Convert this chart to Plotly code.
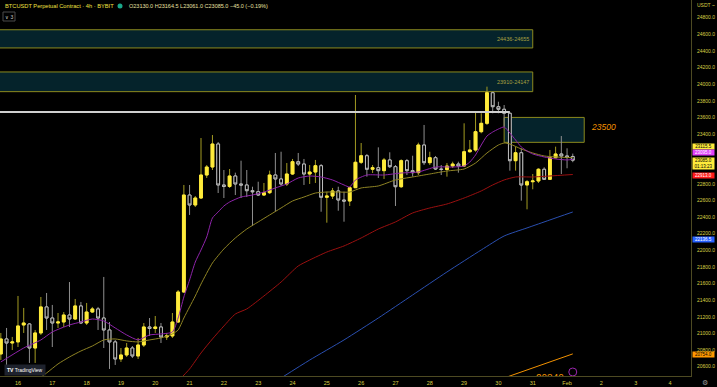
import pandas as pd
import plotly.graph_objects as go

# ---------------- data ----------------
dates = list(pd.date_range("2023-01-15 12:00", periods=101, freq="4h"))

opens = [20753,20934,20885,20898,21102,21114,20825,21006,21319,21186,
         21126,21138,21222,21174,21331,21126,21258,21295,21186,21042,
         20898,20693,20741,20825,20729,20861,21078,21060,21078,20958,
         20970,21138,21499,22666,22546,22630,22907,23003,23280,22787,
         22769,22895,22799,22787,22718,22706,22666,22694,22907,22859,
         22799,22919,23067,23039,22919,22943,23019,22639,22654,22715,
         22606,22594,22754,23060,23139,22976,22995,22959,23088,23007,
         22766,23079,22959,22935,23268,23055,23115,22979,22973,23015,
         23039,23015,23187,23208,23428,23529,23897,23729,23698,23650,
         23079,23175,22787,22826,22835,22976,22855,23115,23160,23136,
         23130]
highs = [21006,21066,20958,21451,21307,21126,21042,21439,21487,21343,
         21246,21258,21619,21415,21379,21367,21319,21319,21680,21138,
         20922,20825,20885,20849,20946,21126,21186,21210,21126,21006,
         21246,21523,22787,22787,22654,23352,23027,23388,23304,22967,
         22979,22935,23079,22967,22766,22826,22811,22959,23172,23187,
         23051,23100,23172,23100,23027,23088,23039,22706,22751,22766,
         22706,22766,23870,23292,23160,23027,23240,23112,23180,23027,
         23096,23100,23139,23296,23509,23187,23136,23027,23051,23067,
         23067,23529,23328,23669,23650,23970,23910,23789,23749,23657,
         23248,23228,22847,22919,22988,23000,23208,23248,23376,23228,
         23164.5]
lows = [20681,20597,20801,20837,21006,20645,20645,20982,21042,20837,
        21066,21078,21078,21162,21114,21102,21246,21042,20825,20573,
        20621,20657,20717,20705,20693,20837,20970,21006,20885,20922,
        20946,21126,21487,22426,22522,22618,22871,22967,22690,22630,
        22751,22666,22630,22642,22293,22654,22654,22678,22465,22775,
        22775,22907,23015,22787,22799,22811,22465,22333,22618,22477,
        22345,22534,22751,23039,22887,22931,22871,22859,22991,22534,
        22751,22907,22887,22907,23027,23027,22967,22907,22887,22991,
        22935,23003,23175,23187,23409,23509,23650,23650,23488,22959,
        22959,22598,22494,22735,22811,22847,22847,23108,22919,22988,
        23061]
closes = [20934,20885,20898,21090,21126,20825,21006,21319,21186,21126,
          21138,21222,21174,21331,21126,21258,21295,21186,21042,20898,
          20693,20741,20825,20729,20861,21078,21060,21078,20958,20970,
          21138,21499,22666,22546,22630,22907,23003,23280,22787,22769,
          22895,22799,22787,22718,22706,22666,22694,22907,22859,22799,
          22919,23067,23039,22919,22943,23019,22639,22654,22715,22606,
          22594,22754,23060,23139,22976,22995,22959,23088,23007,22766,
          23079,22959,22935,23268,23055,23115,22979,22973,23015,23039,
          23015,23187,23208,23428,23529,23897,23729,23698,23650,23079,
          23175,22787,22826,22835,22976,22855,23115,23160,23136,23120,
          23085]

# moving averages (candle index -> price)
ma_fast_idx = [0,4,7,9,12,14,16,18,20,22,24,26,28,30,31,32,33,34,35,36,37,38,39,40,42,44,46,48,50,52,54,56,58,60,61,62,64,67,70,73,76,79,81,82,83,84,85,86,87,88,89,90,91,92,93,95,97,99,100]
ma_fast = [20657,20825,20922,21018,21102,21138,21174,21150,21066,20982,20922,20982,20994,21018,21186,21439,21643,21860,22005,22161,22390,22462,22534,22582,22642,22666,22702,22751,22799,22871,22895,22883,22847,22787,22763,22847,22907,22907,22931,22943,23003,23003,23015,23063,23148,23268,23376,23424,23460,23485,23413,23328,23244,23196,23160,23124,23100,23088,23095]
ma_mid_idx = [6,8,10,12,14,16,18,20,22,24,26,28,30,31,32,33,34,35,37,39,41,43,45,47,49,51,53,55,57,59,61,63,66,69,72,75,78,81,83,85,87,88,89,91,93,95,97,100]
ma_mid = [20428,20524,20633,20717,20789,20849,20922,20934,20910,20898,20922,20946,20994,21042,21186,21319,21451,21595,21848,22017,22149,22257,22342,22426,22510,22594,22642,22690,22702,22702,22702,22751,22775,22847,22883,22919,22955,22979,23051,23172,23268,23292,23280,23220,23172,23136,23124,23115.5]
ma_slow_idx = [31,33,35,37,39,41,43,46,49,52,54,57,60,63,66,69,72,75,78,81,84,86,88,90,93,96,100]
ma_slow = [20428,20573,20765,20934,21090,21234,21295,21451,21619,21812,21884,21980,22053,22149,22257,22342,22450,22510,22558,22630,22715,22787,22847,22883,22883,22895,22913]
ma_long_idx = [49,54,60,66,72,78,84,88,92,96,100]
ma_long = [20464,20680,20922,21186,21463,21740,22005,22173,22270,22366,22462]
ma_xl_idx = [88,100]
ma_xl = [20464,20754]

zones = [(24436, 24655, "24436-24655"), (23910, 24147, "23910-24147")]
zone_end = "2023-01-31 00:00"
level_white = 23665
level_white_end = "2023-01-30 08:00"
box_23500 = ("2023-01-30 04:00", "2023-02-01 12:00", 23300, 23600)

tick_days = list(pd.date_range("2023-01-16", "2023-02-04", freq="D"))
tick_text = ["16","17","18","19","20","21","22","23","24","25","26","27","28","29","30","31","Feb","2","3","4"]
# 23000 and 23200 are hidden behind the price tags in the reference
y_ticks = [20600,20800,21000,21200,21400,21600,21800,22000,22200,22400,22600,22800,23400,23600,23800,24000,24200,24400,24600,24800]

# ---------------- figure ----------------
YEL = "#ffeb3b"
WICK_UP = "#a39b22"
DN_BORDER = "#bdbdbd"
DN_WICK = "#8f8f8f"
AXC = "#d9cf45"
FONT = "Liberation Sans"

fig = go.Figure()

body_hi = [max(o, c) for o, c in zip(opens, closes)]
body_lo = [min(o, c) for o, c in zip(opens, closes)]

fig.add_trace(go.Candlestick(
    x=dates, open=opens, high=highs, low=lows, close=closes,
    increasing=dict(line=dict(color=WICK_UP, width=1), fillcolor=YEL),
    decreasing=dict(line=dict(color=DN_WICK, width=1), fillcolor="#000000"),
    whiskerwidth=0, hoverinfo="skip", showlegend=False))
fig.add_trace(go.Candlestick(
    x=dates, open=opens, high=body_hi, low=body_lo, close=closes,
    increasing=dict(line=dict(color=YEL, width=1), fillcolor=YEL),
    decreasing=dict(line=dict(color=DN_BORDER, width=1), fillcolor="#000000"),
    whiskerwidth=0, hoverinfo="skip", showlegend=False))

def add_line(idx, vals, color):
    fig.add_trace(go.Scatter(x=[dates[i] for i in idx], y=vals, mode="lines",
                             line=dict(color=color, width=1, shape="spline", smoothing=0.6),
                             hoverinfo="skip", showlegend=False))

add_line(ma_long_idx, ma_long, "#2a4fb0")
add_line(ma_slow_idx, ma_slow, "#9b1010")
add_line(ma_mid_idx, ma_mid, "#8f8424")
add_line(ma_fast_idx, ma_fast, "#8e24aa")
add_line(ma_xl_idx, ma_xl, "#f39200")

# clipped orange label at the bottom
fig.add_trace(go.Scatter(x=[dates[96]], y=[20450], mode="text", text=["20340"],
                         textfont=dict(color="#f39200", size=10, family=FONT),
                         cliponaxis=True, hoverinfo="skip", showlegend=False))

shapes = []
for lo, hi, lab in zones:
    shapes.append(dict(type="rect", xref="x", yref="y", x0="2023-01-14", x1=zone_end,
                       y0=lo, y1=hi, fillcolor="#05232b", line=dict(color="#8c8a1e", width=1),
                       layer="below"))
shapes.append(dict(type="rect", xref="x", yref="y", x0=box_23500[0], x1=box_23500[1],
                   y0=box_23500[2], y1=box_23500[3], fillcolor="#05232b",
                   line=dict(color="#8c8a1e", width=1), layer="below"))
shapes.append(dict(type="line", xref="x", yref="y", x0="2023-01-14", x1=level_white_end,
                   y0=level_white, y1=level_white, line=dict(color="#cfcfcf", width=2)))
# purple event marker
shapes.append(dict(type="circle", xref="x", yref="y", xsizemode="pixel", ysizemode="pixel",
                   xanchor=dates[100], yanchor=20536, x0=-4, x1=4, y0=-4, y1=4,
                   line=dict(color="#9c27b0", width=1)))
# header green dot
shapes.append(dict(type="circle", xref="paper", yref="paper",
                   x0=117.5/691, x1=122.5/691, y0=1-8.5/376, y1=1-3.5/376,
                   fillcolor="#1aa88a", line=dict(width=0)))
# small button box
shapes.append(dict(type="rect", xref="paper", yref="paper",
                   x0=3/691, x1=15/691, y0=1-21/376, y1=1-12/376,
                   line=dict(color="#4a4a4a", width=1), fillcolor="#000000"))

ann = []
for lo, hi, lab in zones:
    ann.append(dict(x=zone_end, y=(lo+hi)/2, xref="x", yref="y", text=lab, showarrow=False,
                    xanchor="right", xshift=-2, font=dict(color="#a8a040", size=5.5, family=FONT)))
ann.append(dict(x=box_23500[1], y=23500, xref="x", yref="y", text="<i>23500</i>", showarrow=False,
                xanchor="left", xshift=5, yshift=-1, font=dict(color="#f39200", size=8.5, family=FONT)))
ann.append(dict(x=3/691, y=1-6/376, xref="paper", yref="paper", xanchor="left", yanchor="middle",
                text="BTCUSDT Perpetual Contract · 4h · BYBIT", showarrow=False,
                font=dict(color="#f0e040", size=5.7, family=FONT)))
ann.append(dict(x=127/691, y=1-6/376, xref="paper", yref="paper", xanchor="left", yanchor="middle",
                text="O23130.0 H23164.5 L23061.0 C23085.0 −45.0 (−0.19%)", showarrow=False,
                font=dict(color="#e8e0a0", size=5.5, family=FONT)))
ann.append(dict(x=9/691, y=1-16.5/376, xref="paper", yref="paper", xanchor="center", yanchor="middle",
                text="∨ 3", showarrow=False, font=dict(color="#cccccc", size=5, family=FONT)))
ann.append(dict(x=1, y=1-5/376, xref="paper", yref="paper", xanchor="left", yanchor="middle",
                xshift=4, text="USDT ~", showarrow=False, font=dict(color=AXC, size=5, family=FONT)))
# TradingView badge
ann.append(dict(x=4/691, y=1-370/376, xref="paper", yref="paper", xanchor="left", yanchor="middle",
                text="<b>TV</b> TradingView", showarrow=False, bgcolor="#1e222d", borderpad=2,
                font=dict(color="#ffffff", size=5, family=FONT)))
ann.append(dict(x=1, y=-6/376, xref="paper", yref="paper", xanchor="left", yanchor="middle",
                xshift=9, text="⚙", showarrow=False, font=dict(color="#9a9a9a", size=7)))

# price tags on axis
tags = [
    (23115.5, "23115.5", YEL, "#000000", 11.2),
    (23095.0, "23095.0", "#e040fb", "#ffffff", 6.4),
    (23085.0, "23085.0<br>01:13:23", YEL, "#000000", -2.8),
    (22913.0, "22913.0", "#ff1a1a", "#ffffff", -0.5),
    (22136.5, "22136.5", "#2962ff", "#ffffff", 0),
    (20754.0, "20754.0", "#ff9800", "#000000", -1),
]
for val, txt, bg, fc, ysh in tags:
    ann.append(dict(x=1, y=val, xref="paper", yref="y", xanchor="left", yanchor="middle",
                    xshift=1, yshift=ysh, text=txt, showarrow=False, bgcolor=bg, borderpad=0,
                    width=21, align="center", font=dict(color=fc, size=4.5, family=FONT)))

fig.update_layout(
    width=717, height=387,
    margin=dict(l=0, r=26, t=0, b=11, pad=0),
    paper_bgcolor="#000000", plot_bgcolor="#000000",
    shapes=shapes, annotations=ann, showlegend=False,
    boxgap=0.3,
    xaxis=dict(type="date", range=["2023-01-15 11:25", "2023-02-04 14:41"],
               rangeslider=dict(visible=False), showgrid=False, zeroline=False,
               tickvals=tick_days, ticktext=tick_text, ticks="", ticklabelstandoff=1,
               tickfont=dict(color=AXC, size=5.5, family=FONT),
               showline=True, linecolor="#4d4a22", linewidth=1),
    yaxis=dict(side="right", range=[20488, 25013], showgrid=False, zeroline=False,
               tickvals=y_ticks, tickformat=".1f", ticks="", ticklabelstandoff=4,
               tickfont=dict(color=AXC, size=5, family=FONT),
               showline=True, linecolor="#4d4a22", linewidth=1),
)

fig.write_html("out.html", config={"displayModeBar": False},
               post_script="document.body.style.margin='0';document.body.style.overflow='hidden';")
